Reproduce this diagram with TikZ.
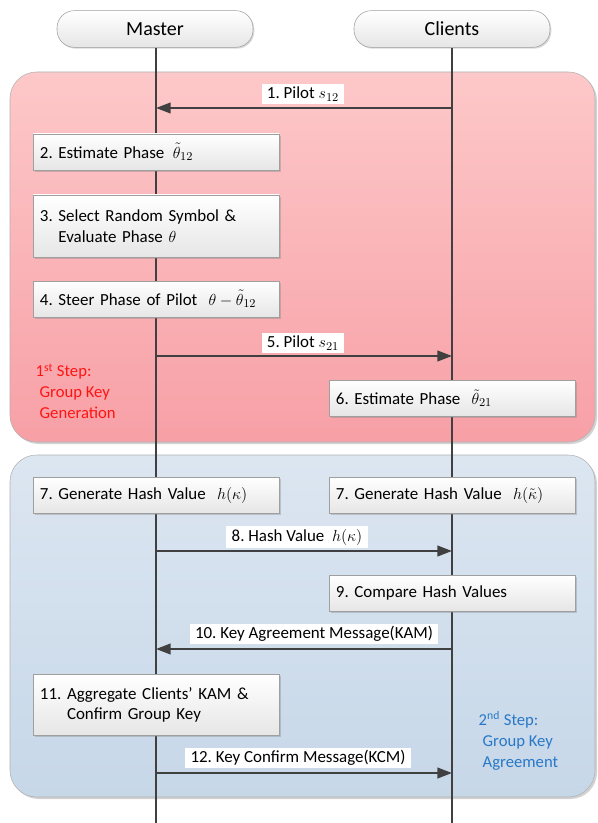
\documentclass[tikz,border=0pt]{standalone}
\usepackage{fontspec}
\setmainfont{Carlito}
\usetikzlibrary{arrows.meta,shadows}
\frenchspacing
\definecolor{lnc}{RGB}{64,64,64}
\definecolor{pinkT}{RGB}{253,200,201}
\definecolor{pinkB}{RGB}{247,160,166}
\definecolor{blueT}{RGB}{220,230,241}
\definecolor{blueB}{RGB}{198,215,232}
\definecolor{stepred}{RGB}{255,20,20}
\definecolor{stepblue}{RGB}{40,120,200}
\definecolor{boxB}{RGB}{230,230,230}
\begin{document}
\begin{tikzpicture}[x=0.75pt,y=-0.75pt,
  region/.style={draw=gray!60, rounded corners=20pt,
    drop shadow={shadow xshift=1.5pt, shadow yshift=-1.5pt, opacity=0.35}},
  hdr/.style={draw=gray!75, top color=white, bottom color=boxB, rounded corners=13pt,
    minimum width=147pt, minimum height=27.5pt, font=\fontsize{15}{17}\selectfont,
    drop shadow={shadow xshift=1pt, shadow yshift=-1pt, opacity=0.3}},
  stepbox/.style={draw=gray!75, top color=white, bottom color=boxB, anchor=west,
    inner xsep=5pt, text width=174.5pt, align=left, minimum height=27pt,
    font=\fontsize{12.7}{15.5}\selectfont,
    drop shadow={shadow xshift=1.2pt, shadow yshift=-1.2pt, opacity=0.35}},
  lifeline/.style={draw=lnc, line width=1.5pt},
  msg/.style={draw=lnc, line width=1.5pt, -{Triangle[length=11pt,width=8pt]}},
  msglbl/.style={fill=white, inner xsep=4pt, inner ysep=2pt, font=\fontsize{12.7}{15}\selectfont},
  steplbl/.style={anchor=north west, align=left, font=\fontsize{12.5}{15.75}\selectfont}
]
\useasboundingbox (0,0) rectangle (597,823);
\fill[white] (0,0) rectangle (597,823);

% regions
\path[region, top color=pinkT, bottom color=pinkB] (10,72) rectangle (595,442);
\path[region, top color=blueT, bottom color=blueB] (10,455) rectangle (595,797);

% headers
\node[hdr] (M) at (155,29) {Master};
\node[hdr] (C) at (452,29) {Clients};

% lifelines
\coordinate (Mend) at (156,823);
\coordinate (Cend) at (452,823);
\draw[lifeline] (M.south -| Mend) -- (Mend);
\draw[lifeline] (C.south) -- (Cend);

% step boxes
\node[stepbox] (b2) at (33,152) {2. Estimate Phase \,$\tilde{\theta}_{12}$};
\node[stepbox, minimum height=46.5pt] (b3) at (33,226)
  {3. Select Random Symbol \&\\\phantom{3. }Evaluate Phase $\theta$};
\node[stepbox] (b4) at (33,299) {4. Steer Phase of Pilot \ $\theta-\tilde{\theta}_{12}$};
\node[stepbox] (b6) at (329,398) {6. Estimate Phase \ $\tilde{\theta}_{21}$};
\node[stepbox] (b7a) at (33,495) {7. Generate Hash Value \ $h(\kappa)$};
\node[stepbox] (b7b) at (329,495) {7. Generate Hash Value \ $h(\tilde{\kappa})$};
\node[stepbox] (b9) at (329,593) {9. Compare Hash Values};
\node[stepbox, minimum height=46pt] (b11) at (33,705)
  {11. Aggregate Clients' KAM \&\\\phantom{11. }Confirm Group Key};

% message anchors
\coordinate (m1) at (156,108);  \coordinate (c1) at (452,108);
\coordinate (m5) at (156,356);  \coordinate (c5) at (452,356);
\coordinate (m8) at (156,551);  \coordinate (c8) at (452,551);
\coordinate (m10) at (156,649); \coordinate (c10) at (452,649);
\coordinate (m12) at (156,773); \coordinate (c12) at (452,773);

% messages
\draw[msg] (c1) -- (m1);
\draw[msg] (m5) -- (c5);
\draw[msg] (m8) -- (c8);
\draw[msg] (c10) -- (m10);
\draw[msg] (m12) -- (c12);

\node[msglbl] (l1) at (303,94) {1. Pilot $s_{12}$};
\node[msglbl] (l5) at (303,343) {5. Pilot $s_{21}$};
\node[msglbl] (l8) at (297,537) {8. Hash Value \ $h(\kappa)$};
\node[msglbl] (l10) at (314,634) {10. Key Agreement Message(KAM)};
\node[msglbl] (l12) at (298,758) {12. Key Confirm Message(KCM)};

% step labels
\node[steplbl, text=stepred] (s1) at (31,359)
  {1\textsuperscript{st} Step:\\\hspace{3pt}Group Key\\\hspace{3pt}Generation};
\node[steplbl, text=stepblue] (s2) at (474,707)
  {2\textsuperscript{nd} Step:\\\hspace{3pt}Group Key\\\hspace{3pt}Agreement};
\end{tikzpicture}
\end{document}
